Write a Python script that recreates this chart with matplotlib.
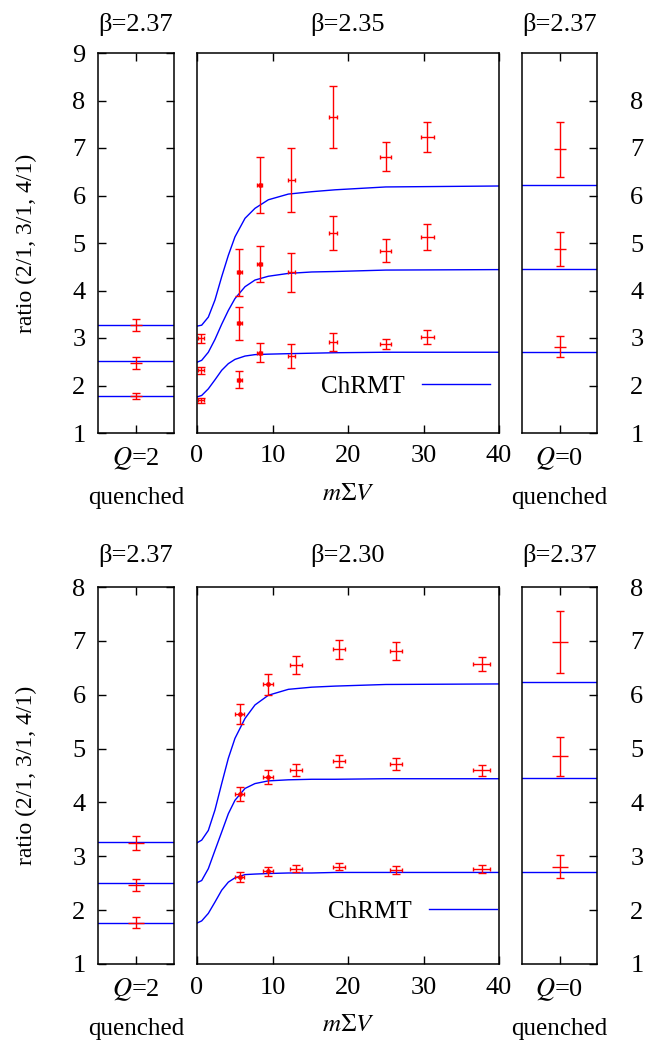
import matplotlib
matplotlib.use("Agg")
import matplotlib.pyplot as plt

plt.rcParams['font.family'] = ['Liberation Serif', 'DejaVu Serif']
plt.rcParams['mathtext.fontset'] = 'stix'
plt.rcParams['font.size'] = 19

# --- top row: beta = 2.35 (dynamical), quenched beta = 2.37 side panels
top_x = [0.53, 5.6, 8.3, 12.5, 18.06, 25.0, 30.5]
top_xerr = [0.45, 0.3, 0.3, 0.45, 0.53, 0.75, 0.84]
top_r21 = [1.69, 2.12, 2.69, 2.62, 2.91, 2.87, 3.02]
top_r21_err = [0.05, 0.18, 0.2, 0.26, 0.19, 0.11, 0.14]
top_r31 = [2.32, 3.31, 4.56, 4.38, 5.21, 4.84, 5.13]
top_r31_err = [0.08, 0.35, 0.38, 0.42, 0.35, 0.25, 0.27]
top_r41 = [2.99, 4.38, 6.22, 6.32, 7.65, 6.82, 7.23]
top_r41_err = [0.09, 0.49, 0.59, 0.67, 0.66, 0.31, 0.32]
top_dots = [False, True, True, False, False, False, False]

# --- bottom row: beta = 2.30
bot_x = [5.64, 9.38, 13.1, 18.8, 26.3, 37.7]
bot_xerr = [0.6, 0.7, 0.84, 0.77, 0.8, 1.1]
bot_r21 = [2.62, 2.72, 2.77, 2.81, 2.75, 2.76]
bot_r21_err = [0.09, 0.08, 0.07, 0.06, 0.07, 0.07]
bot_r31 = [4.15, 4.48, 4.61, 4.77, 4.72, 4.60]
bot_r31_err = [0.13, 0.13, 0.11, 0.11, 0.11, 0.1]
bot_r41 = [5.64, 6.19, 6.55, 6.84, 6.81, 6.57]
bot_r41_err = [0.19, 0.19, 0.17, 0.18, 0.16, 0.13]
bot_dots = [True, True, False, False, False, False]

# ChRMT curves
curve_x = [0, 0.62, 1.5, 2.38, 3.27, 4.15, 5.03, 6.36, 7.68, 9.45, 12.1, 15.2, 18.3, 25, 40]
top_c41 = [3.25, 3.27, 3.44, 3.80, 4.29, 4.74, 5.13, 5.52, 5.73, 5.91, 6.03, 6.08, 6.12, 6.18, 6.20]
top_c31 = [2.49, 2.53, 2.70, 2.97, 3.29, 3.58, 3.83, 4.08, 4.22, 4.30, 4.36, 4.39, 4.40, 4.43, 4.44]
top_c21 = [1.76, 1.79, 1.93, 2.12, 2.32, 2.46, 2.55, 2.62, 2.65, 2.66, 2.67, 2.68, 2.69, 2.70, 2.70]
bot_c41 = [3.25, 3.30, 3.48, 3.86, 4.35, 4.82, 5.19, 5.56, 5.81, 5.99, 6.10, 6.14, 6.16, 6.19, 6.20]
bot_c31 = [2.51, 2.55, 2.77, 3.11, 3.45, 3.79, 4.04, 4.26, 4.35, 4.40, 4.42, 4.43, 4.43, 4.44, 4.44]
bot_c21 = [1.76, 1.80, 1.94, 2.15, 2.37, 2.52, 2.60, 2.66, 2.67, 2.68, 2.69, 2.69, 2.70, 2.70, 2.70]

# quenched side panels
q2_chrmt = [1.77, 2.51, 3.27]
q0_chrmt = [2.70, 4.46, 6.23]
top_q2_vals = [1.78, 2.47, 3.28]
top_q2_err = [0.07, 0.12, 0.13]
top_q0_vals = [2.82, 4.88, 6.97]
top_q0_err = [0.22, 0.36, 0.57]
bot_q2_vals = [1.77, 2.46, 3.25]
bot_q2_err = [0.1, 0.11, 0.13]
bot_q0_vals = [2.81, 4.86, 6.98]
bot_q0_err = [0.22, 0.36, 0.57]

RED = '#ff0000'
BLUE = '#0000ff'

fig = plt.figure(figsize=(6.55, 10.42), dpi=100)
W, H = 655.0, 1042.0


def px_axes(x0, y0, x1, y1):
    return fig.add_axes([x0 / W, 1 - y1 / H, (x1 - x0) / W, (y1 - y0) / H])


def style(ax):
    for s in ax.spines.values():
        s.set_linewidth(1.1)
    ax.tick_params(direction='in', length=6, width=1, labelsize=19)


def side_points(ax, vals, errs, ms):
    ax.errorbar([0, 0, 0], vals, yerr=errs, fmt='none',
                ecolor=RED, elinewidth=1.0, capsize=3, capthick=1.0)
    ax.plot([0, 0, 0], vals, '_', color=RED, ms=ms, mew=1.0)


def draw_row(y0, y1, ymax, beta, qx, qxerr, series, dots, curves, q2_vals, q2_err,
             q0_vals, q0_err, q_ms, leg_anchor, title_pad):
    ax_l = px_axes(98, y0, 174, y1)
    ax_m = px_axes(197, y0, 499, y1)
    ax_r = px_axes(522, y0, 597, y1)

    # left: quenched Q=2
    style(ax_l)
    for v in q2_chrmt:
        ax_l.axhline(v, color=BLUE, lw=1.0)
    side_points(ax_l, q2_vals, q2_err, q_ms)
    ax_l.set_xlim(-1, 1)
    ax_l.set_ylim(1, ymax)
    ax_l.set_yticks(range(1, ymax + 1))
    ax_l.set_xticks([0])
    ax_l.set_xticklabels(['$Q$=2'])
    ax_l.tick_params(axis='y', left=True, right=True, pad=9)
    ax_l.tick_params(axis='x', top=True, bottom=True, pad=9)
    ax_l.set_xlabel('quenched', labelpad=11, fontsize=18)
    ax_l.set_ylabel('ratio (2/1, 3/1, 4/1)', fontsize=17)
    ax_l.yaxis.set_label_coords(-0.80, 0.5)
    ax_l.set_title('β=2.37', pad=title_pad, fontsize=19)

    # middle: dynamical data with ChRMT
    style(ax_m)
    labels = ['ChRMT', None, None]
    for c, lab in zip(curves, labels):
        ax_m.plot(curve_x, c, color=BLUE, lw=1.0, label=lab)
    for vals, errs in series:
        ax_m.errorbar(qx, vals, yerr=errs, fmt='none',
                      ecolor=RED, elinewidth=1.0, capsize=3, capthick=1.0)
        ax_m.errorbar(qx, vals, xerr=qxerr, fmt='none',
                      ecolor=RED, elinewidth=1.0, capsize=1.6, capthick=1.0)
        ax_m.plot([x for x, d in zip(qx, dots) if d], [v for v, d in zip(vals, dots) if d],
                  'o', color=RED, ms=3.5, mew=0)
    ax_m.set_xlim(0, 40)
    ax_m.set_ylim(1, ymax)
    ax_m.set_xticks([0, 10, 20, 30, 40])
    ax_m.set_yticks([])
    ax_m.tick_params(axis='x', top=True, bottom=True, pad=9)
    ax_m.set_xlabel(r'$m\Sigma V$', labelpad=11, fontsize=18)
    ax_m.set_title('β=' + beta, pad=title_pad, fontsize=19)
    ax_m.legend(loc='lower right', bbox_to_anchor=leg_anchor, frameon=False,
                markerfirst=False, handlelength=2.7, handletextpad=0.7, fontsize=18,
                borderaxespad=0, borderpad=0)

    # right: quenched Q=0
    style(ax_r)
    for v in q0_chrmt:
        ax_r.axhline(v, color=BLUE, lw=1.0)
    side_points(ax_r, q0_vals, q0_err, q_ms)
    ax_r.set_xlim(-1, 1)
    ax_r.set_ylim(1, ymax)
    ax_r.set_yticks(range(1, 9))
    ax_r.set_xticks([0])
    ax_r.set_xticklabels(['$Q$=0'])
    ax_r.yaxis.tick_right()
    ax_r.tick_params(axis='y', left=False, right=True, labelleft=False, labelright=True, pad=24)
    ax_r.tick_params(axis='x', top=True, bottom=True, pad=9)
    ax_r.set_xlabel('quenched', labelpad=11, fontsize=18)
    ax_r.set_title('β=2.37', pad=title_pad, fontsize=19)


draw_row(53, 433, 9, '2.35', top_x, top_xerr,
         [(top_r21, top_r21_err), (top_r31, top_r31_err), (top_r41, top_r41_err)],
         top_dots, [top_c41, top_c31, top_c21],
         top_q2_vals, top_q2_err, top_q0_vals, top_q0_err, 8, (0.97, 0.093), 16)

draw_row(587, 964, 8, '2.30', bot_x, bot_xerr,
         [(bot_r21, bot_r21_err), (bot_r31, bot_r31_err), (bot_r41, bot_r41_err)],
         bot_dots, [bot_c41, bot_c31, bot_c21],
         bot_q2_vals, bot_q2_err, bot_q0_vals, bot_q0_err, 12, (0.993, 0.109), 18)

fig.savefig('out.png', dpi=100)
